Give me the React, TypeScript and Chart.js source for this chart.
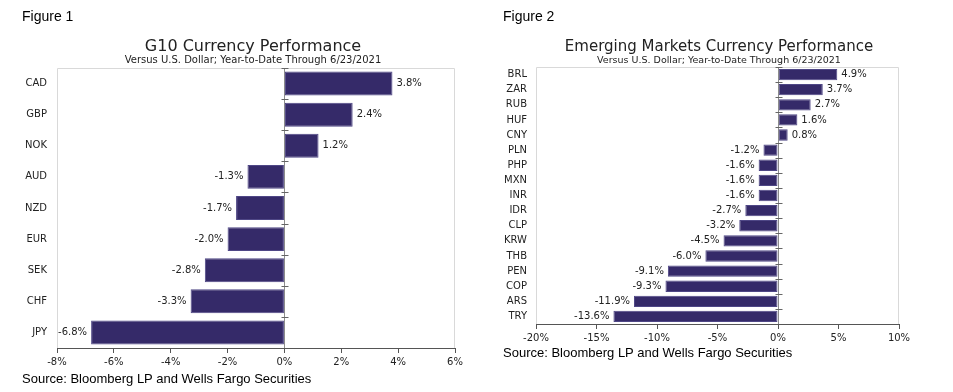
import React, { useEffect, useRef } from "react";
import { Chart, registerables } from "chart.js";

Chart.register(...registerables);

const g10Labels = ["CAD", "GBP", "NOK", "AUD", "NZD", "EUR", "SEK", "CHF", "JPY"];
const g10Values = [3.8, 2.4, 1.2, -1.3, -1.7, -2.0, -2.8, -3.3, -6.8];

const emLabels = ["BRL", "ZAR", "RUB", "HUF", "CNY", "PLN", "PHP", "MXN", "INR", "IDR", "CLP", "KRW", "THB", "PEN", "COP", "ARS", "TRY"];
const emValues = [4.9, 3.7, 2.7, 1.6, 0.8, -1.2, -1.6, -1.6, -1.6, -2.7, -3.2, -4.5, -6.0, -9.1, -9.3, -11.9, -13.6];

const g10Axis = { min: -8, max: 6, step: 2 };
const emAxis = { min: -20, max: 10, step: 5 };

const BAR = "#352a69";
const BAR_EDGE = "#4f4786";
const TEXT = "#222222";
const VERDANA = "'DejaVu Sans', Verdana, sans-serif";
const ARIAL = "'Liberation Sans', Arial, sans-serif";

const framePlugin = {
  id: "frame",
  beforeDatasetsDraw(chart: any) {
    const { ctx, chartArea } = chart;
    ctx.save();
    ctx.strokeStyle = "#d9d9d9";
    ctx.lineWidth = 1;
    ctx.beginPath();
    ctx.moveTo(chartArea.left + 0.5, chartArea.bottom);
    ctx.lineTo(chartArea.left + 0.5, chartArea.top + 0.5);
    ctx.lineTo(chartArea.right - 0.5, chartArea.top + 0.5);
    ctx.lineTo(chartArea.right - 0.5, chartArea.bottom);
    ctx.stroke();
    ctx.restore();
  },
  afterDatasetsDraw(chart: any) {
    const { ctx, chartArea, scales } = chart;
    const x0 = Math.round(scales.x.getPixelForValue(0)) + 0.5;
    const n = chart.data.labels.length;
    ctx.save();
    ctx.strokeStyle = "#8c8c8c";
    ctx.lineWidth = 1;
    ctx.beginPath();
    ctx.moveTo(x0, chartArea.top);
    ctx.lineTo(x0, chartArea.bottom);
    ctx.stroke();
    ctx.strokeStyle = "#666666";
    ctx.beginPath();
    for (let i = 0; i < n; i++) {
      const y = Math.round(scales.y.getPixelForValue(i - 0.5)) + 0.5;
      ctx.moveTo(x0 - 3, y);
      ctx.lineTo(x0 + 4, y);
    }
    ctx.stroke();
    const meta = chart.getDatasetMeta(0);
    const vals = chart.data.datasets[0].data;
    ctx.font = `10px ${VERDANA}`;
    ctx.fillStyle = TEXT;
    ctx.textBaseline = "middle";
    meta.data.forEach((bar: any, i: number) => {
      const v = vals[i] as number;
      const txt = v.toFixed(1) + "%";
      if (v >= 0) {
        ctx.textAlign = "left";
        ctx.fillText(txt, bar.x + 4, bar.y);
      } else {
        ctx.textAlign = "right";
        ctx.fillText(txt, bar.x - 4, bar.y);
      }
    });
    ctx.restore();
  },
};

type Area = { left: number; top: number; right: number; bottom: number };

function BarChart(props: {
  labels: string[];
  values: number[];
  axis: { min: number; max: number; step: number };
  width: number;
  height: number;
  area: Area;
  barPct: number;
  labelPad: number;
}) {
  const ref = useRef<HTMLCanvasElement>(null);
  useEffect(() => {
    const { labels, values, axis, width, height, area, barPct, labelPad } = props;
    const xAxisH = 20;
    const chart = new Chart(ref.current as HTMLCanvasElement, {
      type: "bar",
      data: {
        labels,
        datasets: [
          {
            data: values,
            backgroundColor: BAR,
            borderColor: BAR_EDGE,
            borderWidth: 1,
            borderSkipped: false,
            barPercentage: barPct,
            categoryPercentage: 1,
          },
        ],
      },
      options: {
        indexAxis: "y",
        animation: false,
        responsive: false,
        devicePixelRatio: 1,
        layout: {
          padding: {
            left: 0,
            top: area.top,
            right: width - area.right,
            bottom: height - area.bottom - xAxisH,
          },
        },
        plugins: {
          legend: { display: false },
          title: { display: false },
          tooltip: { enabled: false },
        },
        scales: {
          x: {
            type: "linear",
            min: axis.min,
            max: axis.max,
            afterFit: (s: any) => {
              s.height = xAxisH;
            },
            ticks: {
              stepSize: axis.step,
              callback: (v: any) => v + "%",
              color: TEXT,
              font: { family: VERDANA, size: 10 },
              padding: 3,
              maxRotation: 0,
            },
            grid: {
              drawOnChartArea: false,
              drawTicks: true,
              tickLength: 5,
              color: "#555555",
            },
            border: { display: true, color: "#555555", width: 1 },
          },
          y: {
            afterFit: (s: any) => {
              s.width = area.left;
            },
            ticks: {
              color: TEXT,
              font: { family: VERDANA, size: 10 },
              padding: labelPad,
              autoSkip: false,
            },
            grid: { display: false, drawTicks: false },
            border: { display: false },
          },
        },
      },
      plugins: [framePlugin],
    } as any);
    return () => chart.destroy();
  }, []);
  return <canvas ref={ref} width={props.width} height={props.height} style={{ display: "block", width: props.width, height: props.height }} />;
}

const abs = (s: React.CSSProperties): React.CSSProperties => ({ position: "absolute", whiteSpace: "nowrap", margin: 0, ...s });

export default function App() {
  return (
    <div style={{ position: "absolute", left: 0, top: 0, width: 953, height: 392, background: "#fff", overflow: "hidden" }}>
      <div style={abs({ left: 0, top: 0, width: 480, height: 392 })}>
        <BarChart labels={g10Labels} values={g10Values} axis={g10Axis} width={480} height={392}
          area={{ left: 57, top: 68, right: 455, bottom: 348 }} barPct={0.77} labelPad={10} />
      </div>
      <div style={abs({ left: 480, top: 0, width: 473, height: 392 })}>
        <BarChart labels={emLabels} values={emValues} axis={emAxis} width={473} height={392}
          area={{ left: 56, top: 67, right: 419, bottom: 324 }} barPct={0.75} labelPad={9} />
      </div>

      <div style={abs({ left: 22, top: 8, font: `14px ${ARIAL}`, lineHeight: "16px", color: "#000" })}>Figure 1</div>
      <div style={abs({ left: 503, top: 8, font: `14px ${ARIAL}`, lineHeight: "16px", color: "#000" })}>Figure 2</div>

      <div style={abs({ left: 53, width: 400, top: 36, textAlign: "center", font: `16px ${VERDANA}`, lineHeight: "19px", color: TEXT })}>G10 Currency Performance</div>
      <div style={abs({ left: 53, width: 400, top: 54, textAlign: "center", font: `10px ${VERDANA}`, lineHeight: "12px", color: TEXT })}>Versus U.S. Dollar; Year-to-Date Through 6/23/2021</div>

      <div style={abs({ left: 519, width: 400, top: 37, textAlign: "center", font: `15px ${VERDANA}`, lineHeight: "18px", color: TEXT })}>Emerging Markets Currency Performance</div>
      <div style={abs({ left: 519, width: 400, top: 54, textAlign: "center", font: `9.5px ${VERDANA}`, lineHeight: "12px", color: TEXT })}>Versus U.S. Dollar; Year-to-Date Through 6/23/2021</div>

      <div style={abs({ left: 22, top: 371, font: `13px ${ARIAL}`, lineHeight: "15px", color: "#000" })}>Source: Bloomberg LP and Wells Fargo Securities</div>
      <div style={abs({ left: 503, top: 345, font: `13px ${ARIAL}`, lineHeight: "15px", color: "#000" })}>Source: Bloomberg LP and Wells Fargo Securities</div>
    </div>
  );
}
